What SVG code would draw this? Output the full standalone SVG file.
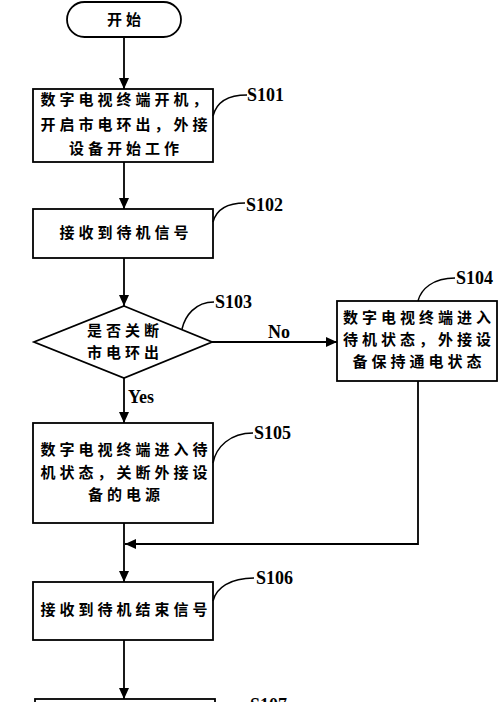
<svg xmlns="http://www.w3.org/2000/svg" width="500" height="702" viewBox="0 0 500 702">
<style>
.box{fill:#fff;stroke:#000;stroke-width:1.8}
.ln{fill:none;stroke:#000;stroke-width:1.8}
.cv{fill:none;stroke:#000;stroke-width:1.5}
.cj{font-family:"Noto Sans CJK SC","Noto Sans CJK JP",sans-serif;font-size:15px;font-weight:bold;letter-spacing:4px;fill:#000;text-anchor:middle}
.lb{font-family:"Liberation Serif",serif;font-size:18px;font-weight:bold;fill:#000}
</style>
<defs>
<marker id="ah" markerUnits="userSpaceOnUse" markerWidth="11" markerHeight="10" refX="11" refY="5" orient="auto">
<path d="M0,0 L11,5 L0,10 z" fill="#000"/>
</marker>
</defs>
<rect width="500" height="702" fill="#fff"/>
<g id="connectors">
<line class="ln" x1="124" y1="37" x2="124" y2="89" marker-end="url(#ah)"/>
<line class="ln" x1="124" y1="162" x2="124" y2="209" marker-end="url(#ah)"/>
<line class="ln" x1="124" y1="258" x2="124" y2="306" marker-end="url(#ah)"/>
<line class="ln" x1="212" y1="342" x2="337" y2="342" marker-end="url(#ah)"/>
<line class="ln" x1="124" y1="378" x2="124" y2="423" marker-end="url(#ah)"/>
<line class="ln" x1="124" y1="523" x2="124" y2="582" marker-end="url(#ah)"/>
<polyline class="ln" points="418,381 418,544 125,544" marker-end="url(#ah)"/>
<line class="ln" x1="124" y1="640" x2="124" y2="699" marker-end="url(#ah)"/>
<text class="lb" x="268" y="338">No</text>
<text class="lb" x="128" y="403">Yes</text>
</g>
<g id="start">
<rect class="box" x="67" y="2" width="114" height="35" rx="17.5"/>
<text class="cj" x="126" y="25">开始</text>
</g>
<g id="S101">
<rect class="box" x="33" y="89" width="180" height="73"/>
<text class="cj" x="126" y="105">数字电视终端开机，</text>
<text class="cj" x="126" y="130">开启市电环出，外接</text>
<text class="cj" x="126" y="154">设备开始工作</text>
<path class="cv" d="M213,116 C216,104 226,95 247,95"/>
<text class="lb" x="247" y="101">S101</text>
</g>
<g id="S102">
<rect class="box" x="33" y="209" width="180" height="49"/>
<text class="cj" x="126" y="238">接收到待机信号</text>
<path class="cv" d="M213,222 C216,211 226,203 245,203"/>
<text class="lb" x="246" y="211">S102</text>
</g>
<g id="S103">
<polygon class="box" points="124,306 212,342 124,378 34,342"/>
<text class="cj" x="125" y="336">是否关断</text>
<text class="cj" x="125" y="358">市电环出</text>
<path class="cv" d="M182,329 C185,316 195,302 214,302"/>
<text class="lb" x="215" y="308">S103</text>
</g>
<g id="S104">
<rect class="box" x="337" y="301" width="160" height="80"/>
<text class="cj" x="419" y="323">数字电视终端进入</text>
<text class="cj" x="419" y="345">待机状态，外接设</text>
<text class="cj" x="419" y="367">备保持通电状态</text>
<path class="cv" d="M418,301 C421,289 433,278 455,278"/>
<text class="lb" x="456" y="284">S104</text>
</g>
<g id="S105">
<rect class="box" x="33" y="423" width="180" height="100"/>
<text class="cj" x="126" y="455">数字电视终端进入待</text>
<text class="cj" x="126" y="478">机状态，关断外接设</text>
<text class="cj" x="126" y="500">备的电源</text>
<path class="cv" d="M213,463 C216,447 230,433 253,433"/>
<text class="lb" x="254" y="439">S105</text>
</g>
<g id="S106">
<rect class="box" x="33" y="582" width="180" height="58"/>
<text class="cj" x="126" y="615">接收到待机结束信号</text>
<path class="cv" d="M213,601 C216,588 230,578 254,578"/>
<text class="lb" x="256" y="584">S106</text>
</g>
<g id="S107">
<rect class="box" x="35" y="699" width="180" height="40"/>
<text class="lb" x="250" y="711">S107</text>
</g>
</svg>
